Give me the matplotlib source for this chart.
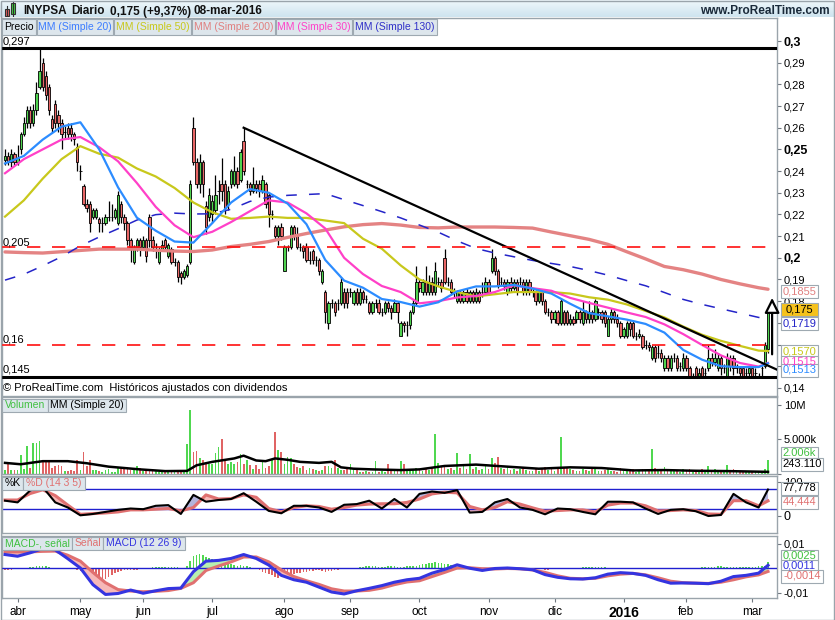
import matplotlib
matplotlib.use('Agg')
import matplotlib.pyplot as plt
from matplotlib.patches import Rectangle
from matplotlib.colors import LinearSegmentedColormap
import numpy as np
import pandas as pd

plt.rcParams['font.family'] = ['Liberation Sans', 'DejaVu Sans']

W, H = 835, 620

# trading days (Madrid holidays removed)
holidays = ['2015-04-03', '2015-04-06', '2015-05-01', '2015-12-25', '2016-01-01']
dates = pd.bdate_range('2015-03-26', '2016-03-08')
dates = dates[~dates.isin(pd.to_datetime(holidays))]
month_labels = ['abr', 'may', 'jun', 'jul', 'ago', 'sep', 'oct', 'nov', 'dic', '2016', 'feb', 'mar']

# daily candles (EUR)
opens = [.245, .247, .244, .248, .244, .250, .257, .262, .268, .262,
         .268, .279, .290, .284, .279, .264, .271, .266, .262, .258,
         .260, .260, .257, .251, .240, .233, .225, .225, .219, .219,
         .218, .216, .216, .219, .219, .219, .216, .225, .219, .216,
         .208, .198, .205, .208, .205, .208, .219, .208, .205, .198,
         .204, .208, .201, .204, .198, .198, .193, .191, .192, .198,
         .260, .244, .234, .244, .224, .219, .220, .222, .231, .234,
         .234, .225, .234, .234, .240, .236, .254, .234, .234, .231,
         .234, .234, .231, .234, .229, .220, .214, .210, .214, .194,
         .205, .205, .214, .210, .205, .205, .205, .199, .203, .199,
         .199, .189, .184, .170, .179, .179, .179, .179, .184, .184,
         .184, .179, .184, .179, .184, .181, .179, .175, .179, .179,
         .175, .175, .179, .177, .175, .179, .164, .170, .169, .169,
         .175, .179, .189, .184, .189, .184, .189, .184, .189, .189,
         .200, .189, .189, .184, .180, .184, .180, .184, .180, .184,
         .180, .184, .184, .184, .189, .194, .200, .194, .189, .189,
         .184, .189, .186, .189, .189, .189, .184, .189, .184, .184,
         .180, .184, .180, .175, .175, .172, .175, .170, .175, .175,
         .170, .172, .172, .175, .170, .175, .172, .175, .172, .175,
         .175, .175, .164, .172, .175, .172, .170, .164, .164, .170,
         .170, .164, .164, .164, .160, .160, .154, .159, .156, .156,
         .149, .154, .149, .154, .154, .150, .149, .154, .149, .145,
         .149, .145, .149, .147, .149, .154, .152, .149, .154, .149,
         .145, .154, .154, .149, .149, .149, .147, .147, .149, .147,
         .145, .149, .150, .158]
closes = [.247, .244, .248, .244, .246, .257, .262, .268, .262, .268,
          .276, .286, .279, .275, .268, .260, .262, .262, .257, .258,
          .257, .257, .255, .244, .240, .225, .223, .216, .222, .222,
          .216, .216, .219, .219, .219, .222, .229, .219, .216, .208,
          .205, .205, .208, .205, .208, .201, .208, .205, .205, .204,
          .206, .205, .206, .198, .198, .191, .191, .194, .196, .234,
          .244, .234, .244, .234, .214, .229, .226, .229, .231, .231,
          .223, .231, .240, .240, .234, .249, .240, .234, .231, .234,
          .232, .231, .236, .225, .220, .220, .210, .214, .210, .205,
          .205, .214, .210, .205, .205, .203, .199, .199, .199, .199,
          .194, .194, .175, .179, .179, .175, .179, .189, .179, .179,
          .184, .184, .179, .184, .181, .181, .175, .179, .179, .175,
          .175, .179, .177, .175, .179, .175, .170, .169, .169, .175,
          .179, .189, .186, .189, .184, .189, .184, .194, .189, .186,
          .189, .189, .184, .184, .184, .180, .184, .180, .184, .180,
          .184, .180, .184, .189, .184, .200, .194, .187, .189, .187,
          .189, .186, .189, .184, .189, .184, .189, .184, .184, .180,
          .184, .180, .175, .175, .172, .175, .170, .180, .170, .170,
          .172, .170, .175, .172, .175, .172, .175, .172, .180, .175,
          .172, .170, .172, .175, .172, .170, .164, .167, .170, .167,
          .164, .164, .165, .159, .160, .159, .159, .154, .156, .154,
          .154, .149, .154, .154, .149, .150, .154, .149, .145, .145,
          .145, .147, .145, .147, .154, .152, .154, .154, .149, .149,
          .154, .150, .149, .149, .147, .145, .147, .149, .145, .147,
          .145, .149, .160, .175]
highs = [.250, .249, .250, .249, .252, .258, .265, .270, .270, .271,
         .281, .297, .292, .286, .280, .266, .273, .268, .264, .261,
         .262, .262, .258, .253, .243, .234, .227, .226, .223, .223,
         .219, .219, .220, .226, .225, .223, .231, .226, .220, .217,
         .209, .206, .209, .209, .210, .209, .220, .210, .207, .205,
         .208, .209, .207, .205, .200, .199, .194, .195, .197, .236,
         .265, .246, .248, .245, .226, .232, .229, .238, .236, .246,
         .236, .233, .241, .247, .242, .250, .260, .236, .235, .242,
         .236, .236, .238, .235, .230, .222, .215, .215, .216, .206,
         .206, .215, .215, .214, .207, .206, .207, .203, .204, .201,
         .200, .195, .185, .180, .181, .180, .181, .191, .186, .186,
         .186, .185, .186, .186, .185, .183, .180, .180, .181, .181,
         .177, .180, .180, .178, .181, .180, .171, .171, .171, .176,
         .181, .196, .190, .190, .196, .192, .191, .198, .191, .190,
         .204, .191, .190, .186, .185, .185, .185, .186, .185, .185,
         .186, .185, .189, .191, .190, .204, .201, .195, .191, .190,
         .190, .191, .190, .190, .191, .190, .190, .190, .186, .185,
         .185, .185, .181, .177, .176, .176, .176, .181, .176, .176,
         .174, .173, .176, .176, .180, .176, .180, .176, .181, .177,
         .176, .176, .173, .177, .176, .174, .171, .168, .171, .171,
         .171, .166, .167, .165, .162, .161, .160, .160, .160, .158,
         .155, .155, .155, .156, .155, .152, .156, .155, .150, .147,
         .150, .149, .150, .149, .160, .156, .158, .156, .155, .151,
         .156, .155, .155, .151, .150, .150, .149, .150, .150, .149,
         .147, .150, .161, .176]
lows = [.243, .243, .242, .243, .243, .248, .256, .260, .260, .261,
        .266, .278, .277, .273, .266, .258, .260, .258, .250, .255,
        .255, .254, .252, .240, .236, .224, .221, .212, .218, .218,
        .212, .212, .215, .217, .217, .218, .215, .216, .213, .206,
        .198, .197, .203, .201, .204, .198, .205, .203, .200, .197,
        .203, .203, .200, .197, .196, .189, .188, .190, .191, .197,
        .243, .232, .230, .228, .211, .217, .216, .220, .225, .226,
        .220, .222, .232, .233, .232, .235, .238, .232, .229, .230,
        .230, .228, .230, .223, .214, .218, .208, .206, .208, .194,
        .203, .204, .208, .204, .203, .200, .198, .197, .197, .196,
        .192, .188, .170, .167, .177, .173, .176, .178, .177, .177,
        .182, .178, .178, .178, .179, .179, .174, .174, .177, .174,
        .173, .174, .175, .172, .175, .170, .164, .166, .164, .167,
        .174, .178, .184, .183, .183, .183, .183, .183, .187, .184,
        .188, .187, .183, .182, .179, .179, .179, .179, .179, .179,
        .179, .179, .182, .183, .183, .193, .192, .186, .187, .185,
        .183, .184, .185, .183, .187, .183, .183, .183, .182, .178,
        .179, .178, .174, .173, .170, .170, .169, .169, .169, .169,
        .169, .169, .170, .170, .169, .170, .170, .170, .171, .172,
        .170, .168, .164, .170, .170, .168, .163, .163, .163, .164,
        .163, .162, .163, .158, .158, .157, .153, .152, .154, .152,
        .148, .148, .148, .152, .148, .148, .148, .148, .145, .145,
        .145, .145, .145, .145, .148, .150, .150, .148, .146, .147,
        .145, .148, .146, .147, .145, .145, .145, .145, .145, .145,
        .145, .145, .149, .156]

# daily volume (thousands of shares)
volume = [576, 1344, 576, 480, 480, 2640, 720, 4080, 864, 4416,
          4512, 4800, 1920, 1920, 1920, 864, 1056, 1200, 1056, 384,
          384, 576, 384, 1920, 480, 3120, 1056, 1920, 480, 576,
          384, 240, 480, 720, 240, 240, 864, 720, 720, 864,
          480, 720, 1056, 864, 384, 576, 384, 576, 480, 240,
          384, 384, 240, 240, 240, 240, 384, 480, 4320, 9216,
          3120, 3216, 2304, 1920, 1440, 1440, 1440, 2976, 3840, 5040,
          1920, 1440, 1680, 1440, 1680, 2880, 1440, 1920, 1200, 720,
          1200, 720, 1920, 864, 1056, 1920, 6000, 3504, 3120, 1440,
          2400, 2304, 1440, 960, 864, 1056, 576, 864, 720, 480,
          384, 576, 1056, 1056, 864, 1920, 864, 480, 576, 720,
          1344, 480, 480, 240, 240, 384, 240, 240, 1824, 240,
          384, 240, 1440, 384, 576, 384, 1824, 1440, 480, 576,
          576, 864, 600, 400, 800, 500, 900, 5700, 1500, 900,
          1200, 600, 800, 500, 3000, 800, 1200, 600, 2800, 700,
          900, 500, 600, 1300, 700, 2200, 1500, 2400, 800, 600,
          900, 500, 700, 400, 600, 900, 500, 400, 300, 600,
          400, 800, 1000, 500, 600, 400, 700, 5400, 900, 800,
          600, 500, 400, 300, 700, 500, 400, 600, 900, 400,
          300, 500, 700, 400, 300, 200, 800, 300, 400, 300,
          600, 200, 300, 700, 400, 300, 3600, 800, 400, 500,
          900, 700, 600, 300, 500, 200, 600, 400, 700, 200,
          500, 300, 600, 200, 1100, 400, 600, 300, 500, 200,
          1200, 400, 700, 200, 300, 400, 200, 300, 300, 200,
          200, 300, 700, 2006]
vol_ma_days = [0, 5, 12, 20, 26, 33, 43, 51, 58, 61, 66, 73, 76, 80, 83, 86, 90, 94,
               100, 104, 107, 111, 117, 126, 132, 140, 150, 160, 170, 180, 190, 200,
               210, 220, 230, 243]
vol_ma = [1550, 1350, 1800, 1800, 1500, 1000, 600, 350, 380, 1200, 1700, 2200, 2600,
          1900, 1800, 2200, 2000, 1700, 1550, 1700, 900, 700, 600, 500, 600, 1100,
          1300, 1000, 700, 900, 800, 450, 500, 400, 350, 243]

# moving averages read every 6 sessions
ma_days = list(range(0, 241, 6)) + [243]
ma20 = [.2435, .247, .2545, .2605, .2625, .250, .2325, .2185, .2125, .2075,
        .207, .216, .2255, .2317, .230, .225, .2155, .199, .1895, .1862,
        .181, .1796, .1775, .1795, .1845, .1868, .1868, .1875, .1858, .1835,
        .1788, .1745, .173, .1715, .1695, .1655, .1575, .153, .150, .1496,
        .1496, .1513]
ma30 = [.239, .2455, .250, .2545, .2557, .251, .2445, .2345, .2235, .215,
        .2095, .212, .2165, .2215, .2265, .2255, .2205, .2135, .200, .1925,
        .187, .1842, .179, .180, .1817, .1824, .1842, .1873, .186, .1848,
        .1815, .1792, .177, .1748, .1727, .1693, .1648, .1598, .155, .1515,
        .1498, .1515]
ma50 = [.219, .2265, .2365, .2455, .2515, .248, .2462, .2412, .2375, .2322,
        .2255, .221, .218, .2184, .219, .2184, .2184, .2172, .216, .2088,
        .2042, .1965, .190, .1868, .1842, .1822, .1832, .1842, .1842, .1842,
        .1835, .1818, .1807, .1785, .1755, .1725, .1683, .1645, .1617, .1594,
        .1572, .1570]
ma200 = [.2027, .2024, .2022, .2028, .2034, .204, .204, .204, .2035, .2031,
         .2029, .2036, .2052, .2062, .2075, .2094, .2112, .2128, .2143, .2153,
         .2158, .2151, .214, .2138, .2142, .2142, .2142, .2140, .2137, .2119,
         .2102, .2085, .2062, .2028, .1995, .196, .1945, .1925, .190, .188,
         .1862, .1855]
ma130 = [.1897, .1924, .1963, .2005, .2055, .2096, .2134, .2174, .2199, .2206,
         .2202, .2203, .2224, .226, .228, .2288, .2292, .2296, .2268, .2241,
         .2213, .2184, .2151, .2118, .2078, .2043, .2022, .2005, .1988, .1974,
         .196, .1941, .192, .1895, .1871, .184, .1808, .1785, .1765, .1745,
         .1725, .1719]

# trend line and levels
trend_days = [76, 246]
trend_prices = [0.260, 0.1483]
levels_black = [0.297, 0.145]
levels_red = [0.205, 0.16]

# stochastic %K / %D (14 3 5), read every 4 sessions
osc_days = list(range(0, 241, 4)) + [243]
stoch_k = [45, 40, 75, 85, 40, 25, 2, 6, 12, 18, 22, 20, 30, 32, 6, 62, 42, 47, 50, 67,
           42, 15, 8, 30, 30, 25, 12, 33, 35, 45, 22, 50, 25, 65, 72, 68, 76, 10, 12, 40,
           50, 25, 18, 5, 22, 20, 12, 5, 42, 42, 40, 22, 6, 18, 20, 14, 0, 3, 65, 40,
           25, 77.778]
stoch_d = [47, 47, 66, 77, 60, 32, 5, 7, 9, 12, 18, 18, 20, 22, 15, 25, 62, 50, 51, 62,
           55, 22, 12, 25, 30, 28, 20, 25, 32, 35, 36, 36, 40, 50, 65, 70, 68, 28, 18, 25,
           42, 35, 24, 14, 16, 18, 18, 12, 32, 38, 38, 30, 15, 16, 18, 16, 6, 5, 45, 45,
           30, 44.444]

# MACD (12 26 9), units of 0.0001
macd = [55, 48, 62, 79, 74, 38, 0, -68, -108, -104, -90, -103, -93, -84, -82, -15, 28, 31,
        39, 55, 39, 12, -30, -48, -58, -78, -98, -106, -93, -83, -72, -58, -48, -42, -21,
        -6, 13, -1, -10, -2, 0, -3, -7, -27, -38, -44, -45, -40, -25, -19, -22, -30, -48,
        -62, -61, -62, -64, -54, -35, -30, -21, 11]
signal = [66, 66, 66, 68, 69, 52, 28, -18, -60, -88, -94, -97, -95, -92, -83, -60, -10, 8,
          25, 45, 45, 25, -8, -35, -52, -67, -85, -94, -94, -91, -82, -68, -57, -52, -35,
          -18, 0, 1, -3, -4, -2, -3, -8, -18, -32, -42, -44, -42, -32, -25, -22, -28, -40,
          -54, -60, -62, -63, -58, -48, -36, -28, -14]
macd_hist = [-8, -9, -7, -5, -3, -2, -1, 1, 3, 5, 8, 10, 10, 7, 4,
             -2, -4, -5, -6, -5, -4, -5, -6, -8,
             -14, -20, -28, -36, -45, -50, -53, -50, -45, -38, -30, -22,
             -15, -12, -10, -8, -8, -10, -8, -6, -5, -3,
             2, 3, 4, 5, 5, 6, 5, 4, 3, 3, 2, 2,
             10, 30, 48, 55, 58,
             52, 45, 40, 35, 30, 28, 25, 20, 18, 15, 12, 10, 12, 10, 8, 5,
             -3, -6, -10, -15, -20, -25, -30, -35, -40, -38, -35, -30, -28, -25, -22, -20,
             -18, -16, -14, -12, -10, -10, -12, -15, -14, -12, -10, -8, -6, -4, -3, -2, -1, 1,
             5, 6, 7, 8, 8, 7, 6, 5, 6, 7, 8, 7, 6, 5, 6, 7, 8, 9, 10,
             12, 15, 18, 20, 22, 25, 22, 20, 18, 15, 12, 10, 8, 5,
             -1, -2, -3, -3, -4, -3, -2, -1, 1, 2,
             -1, -2, -3, -3, -3, -2, -2, -1, -1, -1,
             -2, -3, -4, -5, -6, -6, -7, -7, -6, -6, -5, -5, -4, -3, -2, -1, 0,
             2, 3, 4, 5, 5, 4, 4, 3, 3, 2, 1, 1, 0, -1, -1, -1, -2,
             -3, -4, -4, -5, -5, -4, -4, -3, -3, -2, -2, -1, -1, -1, -1, 0, 0, 1, 1, 1, 1, 2,
             3, 4, 5, 6, 6, 7, 7, 6, 5, 5, 4, 4, 4, 4, 5, 5, 6, 6, 7, 8, 10, 25]

# ---------------------------------------------------------------------------
GRID = '#9aa4ab'
GREEN = '#4fd34f'
RED = '#e86666'

fig = plt.figure(figsize=(W / 100, H / 100), dpi=100)


def ax_px(x0, y0, x1, y1):
    return fig.add_axes([x0 / W, 1 - y1 / H, (x1 - x0) / W, (y1 - y0) / H])


def fy(y):
    return 1 - y / H


def box(x0, x1, y0, y1, text, color, fc='#dde6ec', size=7.5, weight='normal'):
    fig.add_artist(Rectangle((x0 / W, fy(y1)), (x1 - x0) / W, (y1 - y0) / H,
                             transform=fig.transFigure, fc=fc, ec='#9ea9b1', lw=0.8, zorder=10))
    fig.text((x0 + x1) / 2 / W, fy((y0 + y1) / 2), text, color=color, fontsize=size,
             ha='center', va='center', zorder=11, fontweight=weight)


def value_box(y, text, color, fc='white', x1=818):
    box(781, x1, y - 6.5, y + 6.5, text, color, fc=fc, size=8)


def style(ax):
    for s in ax.spines.values():
        s.set_color(GRID)
        s.set_linewidth(1)
    ax.yaxis.tick_right()
    ax.tick_params(axis='y', direction='out', length=3, color='#707880', labelsize=8, pad=2)
    ax.tick_params(axis='x', bottom=False, labelbottom=False)


n = len(closes)
x = np.arange(n)
o, hi, lo, c = map(np.array, (opens, highs, lows, closes))
x_lim = (-0.96, 245.86)

# header
ax_h = ax_px(0, 0, W, 17)
grad = LinearSegmentedColormap.from_list('hdr', ['#eef7fb', '#cfe4ef'])
ax_h.imshow(np.linspace(0, 1, 17)[:, None], cmap=grad, aspect='auto', extent=(0, W, 17, 0))
ax_h.set_xlim(0, W)
ax_h.set_ylim(17, 0)
ax_h.axis('off')
ax_h.plot([7, 7], [6, 17], color='#303030', lw=0.8)
ax_h.add_patch(Rectangle((4.5, 9), 4, 7, fc='#e06060', ec='#303030', lw=0.8))
ax_h.plot([13, 13], [1, 16], color='#303030', lw=0.8)
ax_h.add_patch(Rectangle((10.5, 3), 4.5, 11, fc='#40d040', ec='#303030', lw=0.8))
for tx, t in [(23, 'INYPSA'), (71, 'Diario'), (110, '0,175 (+9,37%)'), (193, '08-mar-2016')]:
    ax_h.text(tx, 11.5, t, fontsize=8.5, fontweight='bold', va='center', color='#111111')
ax_h.text(830, 11.5, 'www.ProRealTime.com', fontsize=8.5, fontweight='bold', va='center',
          ha='right', color='#1a2a3a')

# price panel
ax = ax_px(2, 18, 777, 396)
style(ax)
ax.set_xlim(*x_lim)
ax.set_ylim(0.3 - (396 - 41) / 2168, 0.3 + 23 / 2168)
body_col = np.where(c > o, GREEN, np.where(c < o, RED, 'black'))
ax.vlines(x, lo, hi, color='black', lw=0.9, zorder=3)
ax.bar(x, np.abs(c - o), bottom=np.minimum(o, c), width=0.75, color=body_col,
       edgecolor='black', linewidth=0.6, zorder=4)
ax.plot(ma_days, ma200, color='#e48383', lw=2.4, zorder=5, solid_capstyle='round')
ax.plot(ma_days, ma130, color='#2424c8', lw=1.1, dashes=(7, 8), zorder=5)
ax.plot(ma_days, ma50, color='#c8c81c', lw=1.6, zorder=5)
ax.plot(ma_days, ma30, color='#ff40c8', lw=1.6, zorder=5)
ax.plot(ma_days, ma20, color='#2c8cff', lw=1.6, zorder=5)
ax.plot(trend_days, trend_prices, color='black', lw=1.6, zorder=6)
for lv in levels_black:
    ax.axhline(lv, color='black', lw=2.2, zorder=6)
for lv in levels_red:
    ax.axhline(lv, color='#ff1010', lw=1.2, dashes=(8, 7), zorder=6)
ax.annotate('', xy=(244.3, 0.1828), xytext=(244.3, 0.1542),
            arrowprops=dict(arrowstyle='-|>,head_width=0.45,head_length=0.9', fc='white',
                            ec='black', lw=1.6, mutation_scale=10), zorder=7)
yt = np.round(np.arange(0.14, 0.3001, 0.01), 2)
ax.set_yticks(yt)
# labels 0,15-0,17 sit behind the value boxes in the reference
ax.set_yticklabels(['' if v in (0.15, 0.16, 0.17) else ('%g' % v).replace('.', ',') for v in yt])
for v, lab in zip(yt, ax.get_yticklabels()):
    if v in (0.3, 0.25, 0.2):
        lab.set_fontweight('bold')
        lab.set_fontsize(9)
for txt, py in [('0,297', 41), ('0,205', 243), ('0,16', 340), ('0,145', 370)]:
    fig.text(3 / W, fy(py), txt, fontsize=8, va='center', ha='left', zorder=12)
fig.text(3 / W, fy(388), '\u00a9 ProRealTime.com  Hist\u00f3ricos ajustados con dividendos',
         fontsize=8, va='center', ha='left', zorder=12)

box(2, 36, 19, 35, 'Precio', 'black')
box(37, 113, 19, 35, 'MM (Simple 20)', '#3c7cff')
box(114, 191, 19, 35, 'MM (Simple 50)', '#c8c81c')
box(192, 275, 19, 35, 'MM (Simple 200)', '#e08080')
box(276, 352, 19, 35, 'MM (Simple 30)', '#ff40c8')
box(353, 437, 19, 35, 'MM (Simple 130)', '#3030c8')

value_box(291, '0,1855', '#e08080')
value_box(309.5, '0,175', 'black', fc='#f6c21c')
value_box(323.5, '0,1719', '#2424c8')
value_box(351, '0,1570', '#c8c81c')
value_box(362, '0,1515', '#ff40c8')
value_box(370, '0,1513', '#2c8cff')

# volume panel
ax_v = ax_px(2, 397, 777, 474)
style(ax_v)
ax_v.set_xlim(*x_lim)
ax_v.set_ylim(-73, (473.5 - 397) * 146)
vol_col = np.where(c >= o, '#50d850', '#e06464')
ax_v.bar(x, volume, width=0.55, color=vol_col, zorder=2)
ax_v.plot(vol_ma_days, vol_ma, color='black', lw=1.8, zorder=3)
ax_v.set_yticks([0, 5000, 10000])
ax_v.set_yticklabels(['', '5.000k', '10M'])
box(2, 48, 399, 412, 'Volumen', '#40c040')
box(48, 126, 399, 412, 'MM (Simple 20)', 'black')
value_box(453, '2.006k', '#40c040')
value_box(464, '243.110', 'black', x1=823)

# stochastic panel
ax_s = ax_px(2, 476, 777, 533)
style(ax_s)
ax_s.set_xlim(*x_lim)
ax_s.set_ylim(-50, 117.6)
k = np.array(stoch_k, dtype=float)
d = np.array(stoch_d, dtype=float)
ax_s.fill_between(osc_days, k, d, where=k >= d, interpolate=True, color='#b4b4dc', lw=0, zorder=1)
ax_s.fill_between(osc_days, k, d, where=k < d, interpolate=True, color='#f6b8b8', lw=0, zorder=1)
ax_s.axhline(80, color='#2020d0', lw=1, zorder=2)
ax_s.axhline(20, color='#2020d0', lw=1, zorder=2)
ax_s.plot(osc_days, d, color='#e07070', lw=2.2, zorder=3)
ax_s.plot(osc_days, k, color='black', lw=1.5, zorder=4)
ax_s.set_yticks([0, 100])
ax_s.set_yticklabels(['0', '100'])
ax_s.get_yticklabels()[0].set_fontsize(9)
box(2, 23, 477, 490, '%K', 'black')
box(23, 85, 477, 490, '%D (14 3 5)', '#e07070')
value_box(488, '77,778', 'black')
value_box(502, '44,444', '#e07070')

# MACD panel
ax_m = ax_px(2, 536, 777, 598)
style(ax_m)
ax_m.set_xlim(*x_lim)
ax_m.set_ylim(-(598 - 568) / 2450, (568 - 536) / 2450)
mv = np.array(macd) * 1e-4
sv = np.array(signal) * 1e-4
hv = np.array(macd_hist) * 1e-4
ax_m.bar(x, hv, width=0.5, color=np.where(hv >= 0, '#50d850', '#e06464'), zorder=1)
ax_m.fill_between(osc_days, mv, sv, where=mv >= sv, interpolate=True, color='#b8efb0', lw=0, zorder=2)
ax_m.fill_between(osc_days, mv, sv, where=mv < sv, interpolate=True, color='#f6b8b8', lw=0, zorder=2)
ax_m.axhline(0, color='#2020d0', lw=1, zorder=3)
ax_m.plot(osc_days, sv, color='#e07070', lw=2.2, zorder=4)
ax_m.plot(osc_days, mv, color='#3434e0', lw=2.2, zorder=5)
ax_m.set_yticks([-0.01, 0.01])
ax_m.set_yticklabels(['-0,01', '0,01'])
box(2, 72, 537, 550, 'MACD-, se\u00f1al', '#40c040')
box(72, 103, 537, 550, 'Se\u00f1al', '#e07070')
box(103, 185, 537, 550, 'MACD (12 26 9)', '#3434e0')
value_box(556, '0,0025', '#40c040')
value_box(566, '0,0011', '#3434e0')
value_box(576, '-0,0014', '#e07070', x1=823)

# month axis
month_idx = [i for i in range(1, n) if dates[i].month != dates[i - 1].month]
ax_m.set_xticks(month_idx)
ax_m.set_xticklabels(month_labels)
ax_m.tick_params(axis='x', bottom=True, labelbottom=True, direction='out', length=3,
                 color='#707880', labelsize=8.5, pad=3)
for lab in ax_m.get_xticklabels():
    if lab.get_text() == '2016':
        lab.set_fontweight('bold')
        lab.set_fontsize(10)

fig.add_artist(Rectangle((0.5 / W, 0.5 / H), (W - 2) / W, (H - 1.5) / H,
                         transform=fig.transFigure, fill=False, ec=GRID, lw=1, zorder=20))

fig.savefig('out.png', dpi=100)
